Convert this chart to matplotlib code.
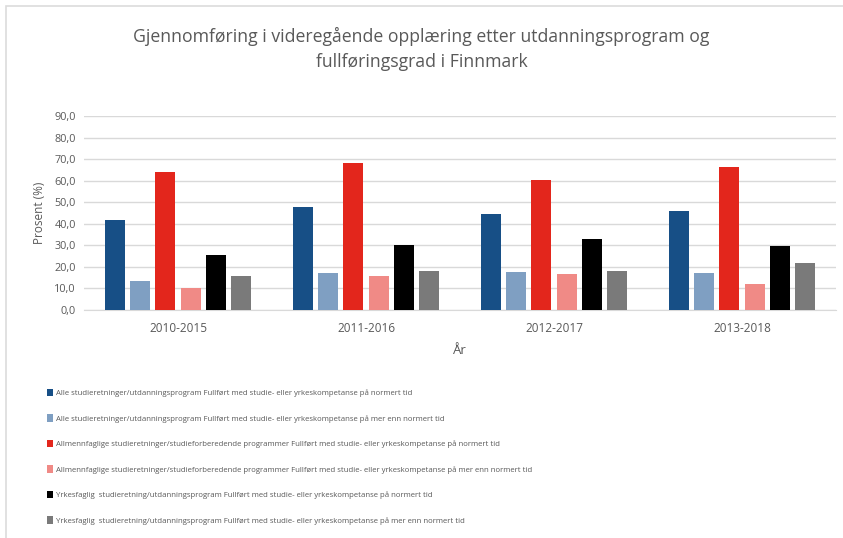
import numpy as np
import matplotlib
matplotlib.use('Agg')
import matplotlib.pyplot as plt
from matplotlib.patches import Patch, Rectangle

TEXT_GREY = '#595959'
GRID = '#d9d9d9'

periods = ['2010-2015', '2011-2016', '2012-2017', '2013-2018']

series_labels = [
    'Alle studieretninger/utdanningsprogram Fullført med studie- eller yrkeskompetanse på normert tid',
    'Alle studieretninger/utdanningsprogram Fullført med studie- eller yrkeskompetanse på mer enn normert tid',
    'Allmennfaglige studieretninger/studieforberedende programmer Fullført med studie- eller yrkeskompetanse på normert tid',
    'Allmennfaglige studieretninger/studieforberedende programmer Fullført med studie- eller yrkeskompetanse på mer enn normert tid',
    'Yrkesfaglig  studieretning/utdanningsprogram Fullført med studie- eller yrkeskompetanse på normert tid',
    'Yrkesfaglig  studieretning/utdanningsprogram Fullført med studie- eller yrkeskompetanse på mer enn normert tid',
]

alle_normert = [41.7, 47.6, 44.7, 45.9]
alle_mer_enn = [13.4, 17.3, 17.6, 17.3]
allmenn_normert = [64.2, 68.3, 60.3, 66.2]
allmenn_mer_enn = [10.0, 15.9, 16.6, 11.9]
yrkes_normert = [25.4, 30.1, 32.9, 29.8]
yrkes_mer_enn = [15.9, 18.1, 18.2, 21.9]

series_values = [alle_normert, alle_mer_enn, allmenn_normert,
                 allmenn_mer_enn, yrkes_normert, yrkes_mer_enn]
colors = ['#174f86', '#7f9fc2', '#e3261c', '#f08a86', '#000000', '#7a7a7a']

yticks = np.arange(0, 91, 10)

plt.rcParams['font.family'] = ['Open Sans', 'DejaVu Sans']

fig = plt.figure(figsize=(8.43, 5.38), dpi=100)
W, H = 843, 538
ax = fig.add_axes([84 / W, 1 - 310 / H, (836 - 84) / W, (310 - 116) / H])

x = np.arange(len(periods))
width = 0.106
pitch = 0.1346
for i, (vals, col) in enumerate(zip(series_values, colors)):
    ax.bar(x + (i - 2.5) * pitch, vals, width=width, color=col, zorder=3)

ax.set_xlim(-0.5, len(periods) - 0.5)
ax.set_ylim(0, 90)
ax.set_yticks(yticks)
ax.set_yticklabels([f'{v:.1f}'.replace('.', ',') for v in yticks])
ax.set_xticks(x)
ax.set_xticklabels(periods)
ax.tick_params(axis='both', length=0, labelsize=8.5, colors=TEXT_GREY)
ax.tick_params(axis='y', labelsize=7.8, pad=6)
ax.tick_params(axis='x', pad=9)
ax.grid(axis='y', color=GRID, linewidth=1, zorder=0)
for side in ['top', 'right', 'left']:
    ax.spines[side].set_visible(False)
ax.spines['bottom'].set_color(GRID)

ax.set_ylabel('Prosent (%)', fontsize=8.5, color=TEXT_GREY, labelpad=6)
fig.text(460 / W, 1 - 351 / H, 'År', fontsize=9.5, color=TEXT_GREY,
         ha='center', va='center')

fig.text(0.5, 1 - 36 / H,
         'Gjennomføring i videregående opplæring etter utdanningsprogram og',
         fontsize=12.7, color=TEXT_GREY, ha='center', va='center')
fig.text(0.5, 1 - 62 / H, 'fullføringsgrad i Finnmark',
         fontsize=12.7, color=TEXT_GREY, ha='center', va='center')

handles = [Patch(facecolor=c, edgecolor='none') for c in colors]
leg = fig.legend(handles, series_labels, loc='upper left',
                 bbox_to_anchor=(43 / W, 1 - 385 / H), frameon=False,
                 fontsize=5.6, labelcolor=TEXT_GREY, handlelength=0.75,
                 handleheight=1.1, handletextpad=0.4, labelspacing=2.2,
                 borderpad=0)

# light frame round the chart area
fig.patches.append(Rectangle((6 / W, -0.05), 1.1, 1 - 6 / H + 0.05,
                             transform=fig.transFigure, fill=False,
                             edgecolor='#dcdcdc', linewidth=1.2))

fig.savefig('out.png', dpi=100, facecolor='white')
